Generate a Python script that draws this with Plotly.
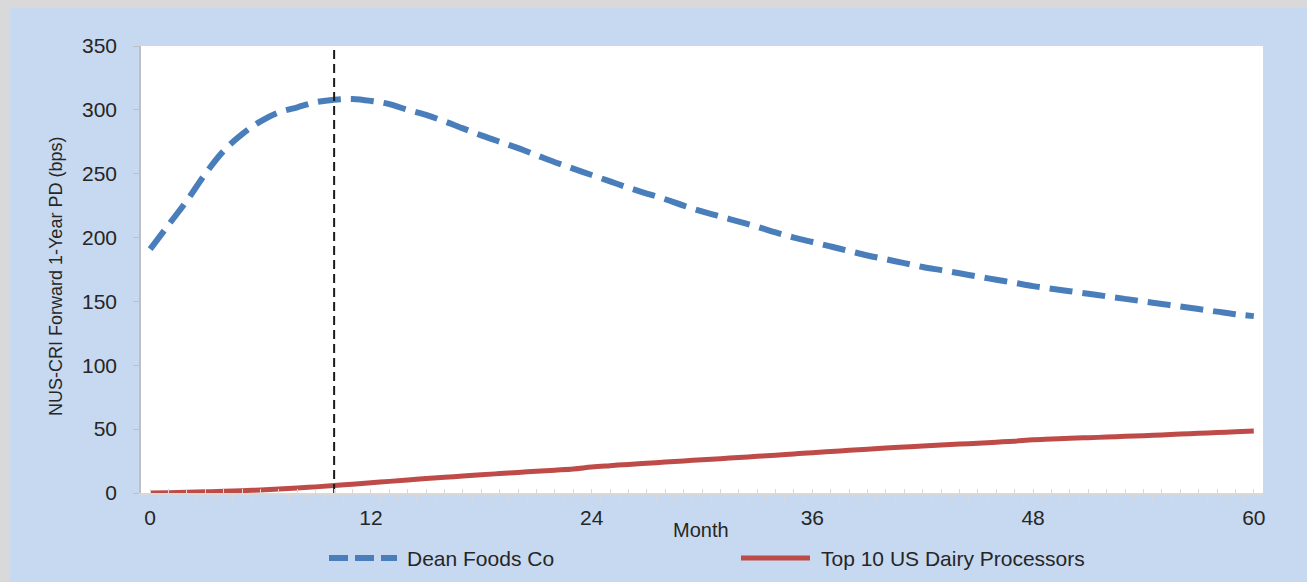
import plotly.graph_objects as go

months = list(range(61))
dean_foods = [191, 210, 229, 250, 268, 281, 291, 298, 302, 306,
              308, 308.5, 307, 304.5, 300, 296, 291, 285.5, 280, 275,
              270, 264.5, 259, 254, 249, 244, 239, 234.5, 230, 225,
              220.5, 216.5, 212.5, 208.5, 204, 200, 196.5, 193, 189.5, 186,
              183, 180, 177, 174.5, 172, 169.5, 167, 164.5, 162, 160,
              158, 156, 154, 152, 150, 148, 146, 144, 142, 140,
              138.5]
top10_dairy = [0, 0.2, 0.5, 0.9, 1.3, 1.8, 2.4, 3.1, 3.9, 4.8,
               5.8, 6.9, 8.0, 9.1, 10.2, 11.3, 12.3, 13.3, 14.3, 15.2,
               16.1, 17.0, 17.9, 18.8, 20.3, 21.4, 22.4, 23.3, 24.2, 25.1,
               26.0, 26.9, 27.8, 28.7, 29.6, 30.6, 31.6, 32.5, 33.4, 34.3,
               35.2, 36.0, 36.8, 37.5, 38.3, 39.0, 39.8, 40.6, 41.6, 42.2,
               42.8, 43.3, 43.8, 44.4, 44.9, 45.5, 46.1, 46.7, 47.3, 47.9,
               48.5]
marker_month = [10, 10]
marker_range = [0, 350]
x_ticks = [0, 12, 24, 36, 48, 60]
y_ticks = [0, 50, 100, 150, 200, 250, 300, 350]
series_names = ["Dean Foods Co", "Top 10 US Dairy Processors"]

BLUE = "#4A7EBB"
RED = "#BE4B48"
BG = "#C6D9F0"
FONT = "Liberation Sans, Arial, sans-serif"
TXT = "#262626"

fig = go.Figure()
fig.add_trace(go.Scatter(x=months, y=dean_foods, mode="lines", name=series_names[0],
                         line=dict(color=BLUE, width=6, dash="23px,10px", shape="spline", smoothing=1),
                         showlegend=False))
fig.add_trace(go.Scatter(x=months, y=top10_dairy, mode="lines", name=series_names[1],
                         line=dict(color=RED, width=5, shape="spline", smoothing=1), showlegend=False))
fig.add_trace(go.Scatter(x=marker_month, y=marker_range, mode="lines", name="marker",
                         line=dict(color="#1a1a1a", width=2, dash="9px,5px"), showlegend=False))
# invisible trace for the boundary tick axis
fig.add_trace(go.Scatter(x=[-0.5, 60.5], y=[0, 0], xaxis="x2", mode="lines",
                         line=dict(width=0), showlegend=False, hoverinfo="skip"))

L, R, T, B = 141, 44, 46, 89
W = 1307 - L - R
H = 582 - T - B

def px_x(p):
    return (p - L) / W

def px_y(p):
    return (582 - B - p) / H

shapes = [
    dict(type="rect", xref="paper", yref="paper", x0=px_x(10), x1=px_x(1320),
         y0=px_y(600), y1=px_y(8), fillcolor=BG, line=dict(width=0), layer="below"),
    dict(type="rect", xref="paper", yref="paper", x0=0, x1=1, y0=0, y1=1,
         fillcolor="white", line=dict(width=0), layer="below"),
    # custom legend symbols
    dict(type="line", xref="paper", yref="paper", x0=px_x(329), x1=px_x(397),
         y0=px_y(558), y1=px_y(558), line=dict(color=BLUE, width=6, dash="19px,7px")),
    dict(type="line", xref="paper", yref="paper", x0=px_x(741), x1=px_x(810),
         y0=px_y(558), y1=px_y(558), line=dict(color=RED, width=5)),
]

annotations = [
    dict(text=series_names[0], xref="paper", yref="paper", x=px_x(405), y=px_y(558),
         xanchor="left", yanchor="middle", showarrow=False, font=dict(size=21, color=TXT, family=FONT)),
    dict(text=series_names[1], xref="paper", yref="paper", x=px_x(819), y=px_y(558),
         xanchor="left", yanchor="middle", showarrow=False, font=dict(size=21, color=TXT, family=FONT)),
    dict(text="Month", xref="paper", yref="paper", x=px_x(701), y=px_y(530),
         xanchor="center", yanchor="middle", showarrow=False, font=dict(size=20, color=TXT, family=FONT)),
    dict(text="NUS-CRI Forward 1-Year PD (bps)", xref="paper", yref="paper", x=px_x(56), y=px_y(277),
         xanchor="center", yanchor="middle", textangle=-90, showarrow=False,
         font=dict(size=18, color=TXT, family=FONT)),
]

fig.update_layout(
    width=1307, height=582,
    margin=dict(l=L, r=R, t=T, b=B),
    paper_bgcolor="#D9D9D9",
    plot_bgcolor="rgba(0,0,0,0)",
    font=dict(family=FONT, color=TXT, size=21),
    shapes=shapes,
    annotations=annotations,
    xaxis=dict(range=[-0.5, 60.5], tickvals=x_ticks, ticktext=[str(v) for v in x_ticks],
               showgrid=False, zeroline=False, showline=True, linecolor="#D9D9D9", linewidth=1.5,
               ticks="inside", ticklen=4, tickcolor="#D9D9D9", tickwidth=1,
               minor=dict(tickvals=months, ticks="inside", ticklen=4, tickcolor="#D9D9D9", tickwidth=1),
               tickfont=dict(size=21, color=TXT), ticklabelstandoff=5),
    xaxis2=dict(range=[-0.5, 60.5], overlaying="x", side="bottom", anchor="y",
                tickvals=[m + 0.5 for m in months[:-1]] + [-0.5], showticklabels=False,
                ticks="outside", ticklen=6, tickcolor="#D9D9D9", tickwidth=1,
                showgrid=False, zeroline=False, showline=False),
    yaxis=dict(range=[0, 350], tickvals=y_ticks, showgrid=False, zeroline=False,
               showline=True, linecolor="#BFBFBF", linewidth=1.5,
               ticks="outside", ticklen=6, tickcolor="#BFBFBF", tickwidth=1,
               tickfont=dict(size=21, color=TXT), ticklabelstandoff=12),
)

fig.write_html("out.html")
